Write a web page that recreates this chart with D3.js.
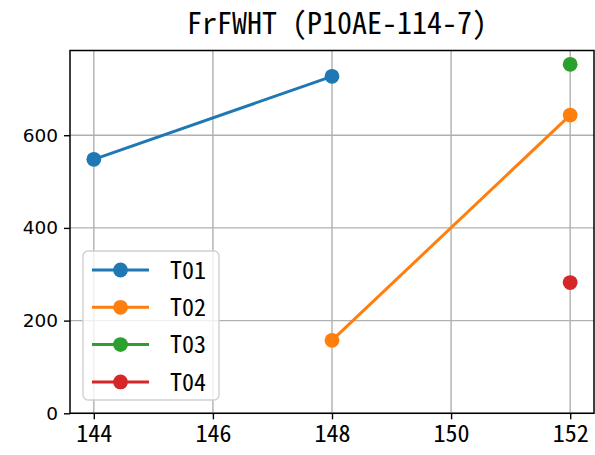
<!DOCTYPE html>
<html><head><meta charset="utf-8">
<script src="https://cdn.jsdelivr.net/npm/d3@7"></script>
<style>body{margin:0;background:#fff}</style>
</head><body>
<svg id="c" width="595" height="455"></svg>
<script>
const title = "FrFWHT (P10AE-114-7)";
const seriesNames = ["T01","T02","T03","T04"];
const seriesColors = ["#1f77b4","#ff7f0e","#2ca02c","#d62728"];
const seriesX = [[144,148],[148,152],[152],[152]];
const seriesY = [[548,727],[157.5,643.5],[753],[282]];
const xTicks = [144,146,148,150,152];
const yTicks = [0,200,400,600];

const svg = d3.select("#c");
const L=70,R=594,T=50.5,B=413.3;
const allX = seriesX.flat(), allY = seriesY.flat();
const xmin=d3.min(allX), xmax=d3.max(allX), ymin=d3.min(allY), ymax=d3.max(allY);
const x = d3.scaleLinear().domain([xmin-0.05*(xmax-xmin), xmax+0.05*(xmax-xmin)]).range([L,R]);
const y = d3.scaleLinear().domain([0, ymax+0.05*(ymax-ymin)]).range([B,T]);
const cjk = "'Noto Sans Mono CJK JP', 'Noto Sans CJK JP', monospace";

// grid
svg.append("g").selectAll("line").data(xTicks).join("line")
  .attr("x1",d=>x(d)).attr("x2",d=>x(d)).attr("y1",T).attr("y2",B)
  .attr("stroke","#b0b0b0").attr("stroke-width",1.4);
svg.append("g").selectAll("line").data(yTicks).join("line")
  .attr("y1",d=>y(d)).attr("y2",d=>y(d)).attr("x1",L).attr("x2",R)
  .attr("stroke","#b0b0b0").attr("stroke-width",1.4);

// lines and markers
seriesNames.forEach((n,i)=>{
  const pts = seriesX[i].map((v,j)=>[v,seriesY[i][j]]);
  svg.append("path").datum(pts)
    .attr("d", d3.line().x(d=>x(d[0])).y(d=>y(d[1])))
    .attr("fill","none").attr("stroke",seriesColors[i]).attr("stroke-width",3);
  svg.append("g").selectAll("circle").data(pts).join("circle")
    .attr("cx",d=>x(d[0])).attr("cy",d=>y(d[1])).attr("r",7.4)
    .attr("fill",seriesColors[i]);
});

// axes
const xa = svg.append("g").attr("transform",`translate(0,${B})`)
  .call(d3.axisBottom(x).tickValues(xTicks).tickSize(6).tickPadding(6).tickFormat(d3.format("d")));
xa.select(".domain").remove();
xa.selectAll("line").attr("stroke","#000").attr("stroke-width",1.4);
xa.selectAll("text").attr("font-family",cjk).attr("font-size",24).attr("fill","#000");

const ya = svg.append("g").attr("transform",`translate(${L},0)`)
  .call(d3.axisLeft(y).tickValues(yTicks).tickSize(6).tickPadding(6).tickFormat(d3.format("d")));
ya.select(".domain").remove();
ya.selectAll("line").attr("stroke","#000").attr("stroke-width",1.4);
ya.selectAll("text").attr("font-family","'DejaVu Sans', sans-serif").attr("font-size",18.5).attr("fill","#000");

// frame
svg.append("rect").attr("x",L).attr("y",T).attr("width",R-L).attr("height",B-T)
  .attr("fill","none").attr("stroke","#000").attr("stroke-width",1.5);

// title
svg.append("text").attr("x",337).attr("y",34).attr("text-anchor","middle")
  .attr("font-family",cjk).attr("font-size",30).attr("fill","#000").text(title);

// legend
const lg = svg.append("g");
lg.append("rect").attr("x",83).attr("y",251).attr("width",136).attr("height",149)
  .attr("rx",5).attr("fill","rgba(255,255,255,0.8)").attr("stroke","#d0d0d0").attr("stroke-width",1.4);
seriesNames.forEach((n,i)=>{
  const yy = 270 + i*37.3;
  lg.append("line").attr("x1",92).attr("x2",149).attr("y1",yy).attr("y2",yy)
    .attr("stroke",seriesColors[i]).attr("stroke-width",3);
  lg.append("circle").attr("cx",120.5).attr("cy",yy).attr("r",7.4).attr("fill",seriesColors[i]);
  lg.append("text").attr("x",170).attr("y",yy).attr("dy","0.36em")
    .attr("font-family",cjk).attr("font-size",24).attr("fill","#000").text(n);
});
</script>
</body></html>
